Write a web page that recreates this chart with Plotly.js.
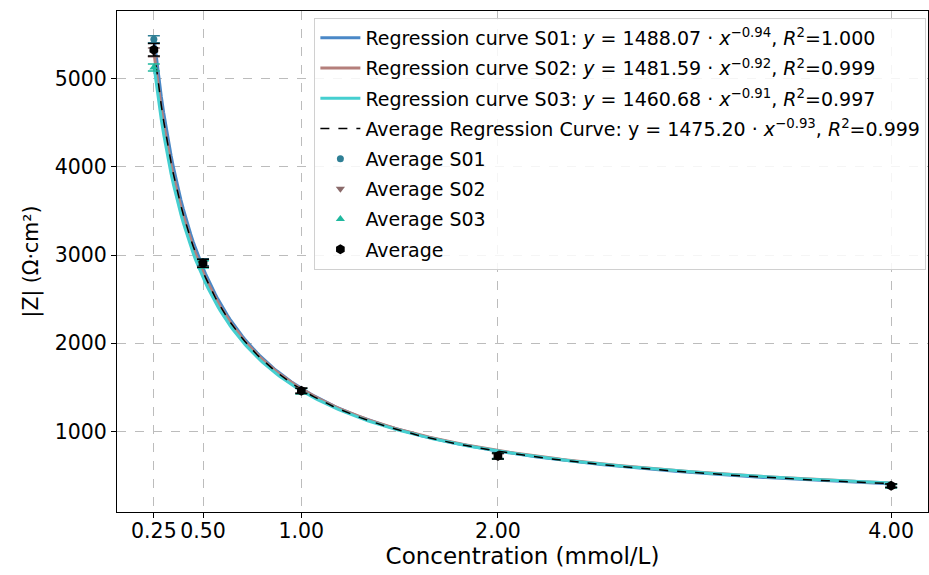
<!DOCTYPE html>
<html>
<head>
<meta charset="utf-8">
<script src="https://cdn.plot.ly/plotly-3.0.1.min.js"></script>
<style>html,body{margin:0;padding:0;background:#fff;}#chart{width:929px;height:575px;}</style>
</head>
<body>
<div id="chart"></div>
<script>
// Concentrations (mmol/L)
const conc = [0.25, 0.5, 1.0, 2.0, 4.0];
const tickLabels = ["0.25", "0.50", "1.00", "2.00", "4.00"];

// Measured averages (|Z|, Ω·cm²) and standard deviations
const s01 = [5450, 2920, 1462, 722, 385];
const s01Err = [40, 40, 30, 30, 20];
const s02 = [5300, 2905, 1465, 715, 382];
const s02Err = [50, 40, 30, 30, 20];
const s03 = [5130, 2895, 1455, 722, 378];
const s03Err = [40, 40, 30, 35, 20];
const avg = [5330, 2908, 1460, 720, 382];
const avgErr = [70, 45, 30, 35, 20];

// Regression parameters y = a * x^b
const fitA = [1488.07, 1481.59, 1460.68, 1475.20];
const fitB = [-0.94, -0.92, -0.91, -0.93];
const fitR2 = ["1.000", "0.999", "0.997", "0.999"];

const xs = [];
for (let i = 0; i <= 300; i++) xs.push(0.25 + (4 - 0.25) * i / 300);
function curve(k) { return xs.map(x => fitA[k] * Math.pow(x, fitB[k])); }
function eqLabel(name, k, italic) {
  const y = italic ? "<i>y</i> = " : "y = ";
  return name + ": " + y + fitA[k].toFixed(2) + " · <i>x</i><sup>" + fitB[k].toFixed(2).replace("-", "−") + "</sup>, <i>R</i><sup>2</sup>=" + fitR2[k];
}

const lineCols = ["#4a88c7", "#b47f7b", "#45cfd0"];
const markCols = ["#2f7f95", "#8a6a6a", "#1fb89e"];

const traces = [
  {x: xs, y: curve(0), mode: "lines", line: {color: lineCols[0], width: 3}, name: eqLabel("Regression curve S01", 0, true), legendgroup: "a"},
  {x: xs, y: curve(1), mode: "lines", line: {color: lineCols[1], width: 3}, name: eqLabel("Regression curve S02", 1, true), legendgroup: "b"},
  {x: xs, y: curve(2), mode: "lines", line: {color: lineCols[2], width: 3}, name: eqLabel("Regression curve S03", 2, true), legendgroup: "c"},
  {x: xs, y: curve(3), mode: "lines", line: {color: "#000", width: 1.5, dash: "dash"}, name: eqLabel("Average Regression Curve", 3, false), legendgroup: "d"},
  {x: conc, y: s01, mode: "markers", marker: {color: markCols[0], symbol: "circle", size: 7}, legendgroup: "e",
   error_y: {type: "data", array: s01Err, color: markCols[0], thickness: 1.5, width: 6}, name: "Average S01"},
  {x: conc, y: s02, mode: "markers", marker: {color: markCols[1], symbol: "triangle-down", size: 8}, legendgroup: "f",
   error_y: {type: "data", array: s02Err, color: markCols[1], thickness: 1.5, width: 6}, name: "Average S02"},
  {x: conc, y: s03, mode: "markers", marker: {color: markCols[2], symbol: "triangle-up", size: 8}, legendgroup: "g",
   error_y: {type: "data", array: s03Err, color: markCols[2], thickness: 1.5, width: 6}, name: "Average S03"},
  {x: conc, y: avg, mode: "markers", marker: {color: "#000", symbol: "hexagon", size: 10}, legendgroup: "h",
   error_y: {type: "data", array: avgErr, color: "#000", thickness: 1.5, width: 6}, name: "Average"}
];

const layout = {
  width: 929, height: 575,
  margin: {l: 117, r: 1, t: 11, b: 63},
  paper_bgcolor: "#fff", plot_bgcolor: "#fff",
  font: {family: "DejaVu Sans, sans-serif", size: 20.5, color: "#000"},
  showlegend: true,
  legend: {x: 0.998, xanchor: "right", y: 0.986, yanchor: "top",
           bgcolor: "rgba(255,255,255,0.85)", bordercolor: "#d0d0d0", borderwidth: 1,
           font: {size: 19}, traceorder: "grouped", itemwidth: 40, tracegroupgap: 2.5},
  xaxis: {range: [0.0625, 4.1875], tickvals: conc, ticktext: tickLabels,
          showline: true, linecolor: "#000", linewidth: 1, mirror: true,
          ticks: "outside", ticklen: 5, tickcolor: "#000", ticklabelstandoff: -5,
          showgrid: true, gridcolor: "#bcbcbc", griddash: "dash", gridwidth: 1, zeroline: false,
          title: {text: "Concentration (mmol/L)", font: {size: 23}, standoff: 3}},
  yaxis: {range: [85, 5770], tickvals: [1000, 2000, 3000, 4000, 5000],
          showline: true, linecolor: "#000", linewidth: 1, mirror: true,
          ticks: "outside", ticklen: 5, tickcolor: "#000",
          showgrid: true, gridcolor: "#bcbcbc", griddash: "dash", gridwidth: 1, zeroline: false,
          title: {text: "|Z| (Ω·cm²)", font: {size: 20.5}, standoff: 10}}
};

Plotly.newPlot("chart", traces, layout, {displayModeBar: false, staticPlot: true});
</script>
</body>
</html>
